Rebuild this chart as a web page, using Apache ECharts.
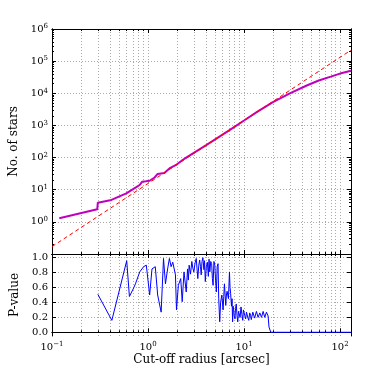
<!DOCTYPE html>
<html>
<head>
<meta charset="utf-8">
<script src="https://cdn.jsdelivr.net/npm/echarts@6/dist/echarts.min.js"></script>
<style>
  html, body { margin: 0; padding: 0; background: #fff; }
  #chart { width: 374px; height: 374px; }
</style>
</head>
<body>
<div id="chart"></div>
<script>
// cumulative star counts (magenta)
const starRadius = [0.119, 0.296, 0.30, 0.416, 0.594, 0.755, 0.817, 0.87, 0.95, 1.04, 1.17, 1.26, 1.48, 1.67, 1.96, 2.29, 2.5, 4.0, 7.0, 10, 13.8, 20, 30, 45, 60, 80, 100, 130]
const starCount = [1.29, 2.45, 3.95, 4.8, 7.7, 12, 14, 17.8, 18.3, 19, 24, 31, 33, 46, 59, 84, 100, 240, 700, 1420, 2700, 5300, 10000, 17500, 25000, 33000, 41000, 50000]

// power-law fit (red dashed)
const fitRadius = [0.1, 130]
const fitCount = [0.17, 220000]

// P-value (blue)
const pRadius = [0.30, 0.42, 0.60, 0.64, 0.70, 0.74, 0.82, 0.90, 0.96, 1.04, 1.10, 1.19, 1.26, 1.37, 1.45, 1.52, 1.60, 1.67, 1.74, 1.81, 1.93, 1.98, 2.07, 2.19, 2.27, 2.37, 2.50, 2.58, 2.63, 2.68, 2.77, 2.86, 2.93, 3.0, 3.09, 3.18, 3.24, 3.3, 3.38, 3.45, 3.52, 3.58, 3.65, 3.73, 3.82, 3.88, 3.95, 4.05, 4.15, 4.25, 4.32, 4.4, 4.5, 4.6, 4.68, 4.76, 4.86, 4.96, 5.05, 5.15, 5.25, 5.36, 5.45, 5.58, 5.7, 5.87, 6.05, 6.15, 6.25, 6.45, 6.55, 6.66, 6.88, 7.05, 7.15, 7.25, 7.4, 7.5, 7.6, 7.7, 7.8, 7.9, 8.05, 8.15, 8.3, 8.45, 8.6, 8.75, 8.95, 9.1, 9.3, 9.5, 9.7, 9.85, 10.0, 10.2, 10.4, 10.6, 10.8, 11.0, 11.2, 11.45, 11.7, 11.9, 12.1, 12.35, 12.6, 12.9, 13.2, 13.45, 13.7, 14.0, 14.3, 14.6, 14.9, 15.2, 15.5, 15.8, 16.1, 16.45, 16.8, 17.1, 17.5, 17.8, 18.2, 19.0, 130]
const pValue = [0.51, 0.16, 0.96, 0.48, 0.58, 0.65, 0.81, 0.88, 0.90, 0.50, 0.85, 0.88, 0.50, 0.27, 0.99, 0.65, 0.85, 0.99, 0.88, 0.94, 0.77, 0.30, 0.63, 0.72, 0.41, 0.81, 0.54, 0.85, 0.70, 0.90, 0.78, 0.95, 0.86, 0.81, 0.93, 0.99, 0.85, 0.72, 0.90, 0.97, 0.88, 0.77, 0.95, 1.0, 0.84, 0.96, 0.68, 0.88, 0.94, 0.75, 0.98, 0.81, 0.95, 0.92, 0.72, 0.63, 0.95, 0.90, 0.70, 0.54, 0.88, 0.92, 0.45, 0.14, 0.40, 0.50, 0.30, 0.48, 0.65, 0.36, 0.50, 0.55, 0.45, 0.81, 0.60, 0.52, 0.35, 0.45, 0.14, 0.35, 0.30, 0.22, 0.18, 0.32, 0.38, 0.22, 0.14, 0.28, 0.30, 0.20, 0.34, 0.24, 0.16, 0.30, 0.27, 0.22, 0.18, 0.27, 0.25, 0.19, 0.16, 0.26, 0.23, 0.17, 0.18, 0.27, 0.25, 0.19, 0.21, 0.28, 0.27, 0.20, 0.21, 0.26, 0.25, 0.20, 0.22, 0.28, 0.26, 0.20, 0.21, 0.27, 0.25, 0.22, 0.07, 0.0, 0.0]

// ticks
const xMajor = [0.1, 1, 10, 100]
const yMajor = [0.1, 1, 10, 100, 1e3, 1e4, 1e5, 1e6]
const yLabelled = [1, 10, 100, 1e3, 1e4, 1e5, 1e6]
const minorFactors = [2, 3, 4, 5, 6, 7, 8, 9]
const pTicks = [0, 0.2, 0.4, 0.6, 0.8, 1.0]

const xMinor = xMajor.flatMap((d) => minorFactors.map((k) => +(k * d).toPrecision(3)))
const yMinor = yMajor.slice(0, -1).flatMap((d) => minorFactors.map((k) => +(k * d).toPrecision(3)))

const font = 'DejaVu Serif'
const frame = { show: true, lineStyle: { color: '#000', width: 1 } }
const dotted = { show: true, lineStyle: { color: '#aaa', width: 1, type: [1, 2] } }
const supRich = {
  e: { fontFamily: font, fontSize: 7, color: '#000', verticalAlign: 'top', lineHeight: 7, padding: [0, 0, 5, 0] }
}

function powLabel(v) {
  const e = Math.round(Math.log10(v))
  return '10{e|' + (e < 0 ? '\u2212' + -e : e) + '}'
}

function axis(type, grid, position, ticks, len, extra) {
  const a = {
    type: type,
    gridIndex: grid,
    position: position,
    offset: 0,
    axisLine: frame,
    axisTick: { show: true, inside: true, length: len, customValues: ticks, lineStyle: { color: '#000', width: 1 } },
    axisLabel: { show: false },
    splitLine: { show: false },
    axisPointer: { show: false }
  }
  if (type === 'log') a.logBase = 10
  return Object.assign(a, extra)
}

const xRange = { min: 0.1, max: 130 }
const yTopRange = { min: 0.1, max: 1e6 }
const pRange = { min: -0.05, max: 1.05 }

const xAxes = [
  // top panel
  axis('log', 0, 'bottom', xMajor, 4, Object.assign({ splitLine: dotted }, xRange)),
  axis('log', 0, 'bottom', xMinor, 2, Object.assign({ splitLine: dotted }, xRange)),
  axis('log', 0, 'top', xMajor, 4, xRange),
  axis('log', 0, 'top', xMinor, 2, xRange),
  // bottom panel
  axis('log', 1, 'bottom', xMajor, 4, Object.assign({
    splitLine: dotted,
    axisLabel: {
      show: true, customValues: xMajor, margin: 5, formatter: powLabel,
      fontFamily: font, fontSize: 10, color: '#000', lineHeight: 12, rich: supRich
    },
    name: 'Cut-off radius [arcsec]',
    nameLocation: 'middle',
    nameGap: 15,
    nameTextStyle: { fontFamily: font, fontSize: 12, color: '#000', verticalAlign: 'top' }
  }, xRange)),
  axis('log', 1, 'bottom', xMinor, 2, Object.assign({ splitLine: dotted }, xRange)),
  axis('log', 1, 'top', xMajor, 4, xRange),
  axis('log', 1, 'top', xMinor, 2, xRange)
]

const yAxes = [
  axis('log', 0, 'left', yMajor, 4, Object.assign({
    splitLine: dotted,
    axisLabel: {
      show: true, customValues: yLabelled, margin: 4, formatter: powLabel,
      fontFamily: font, fontSize: 10, color: '#000', lineHeight: 12, rich: supRich
    },
    name: 'No. of stars',
    nameLocation: 'middle',
    nameGap: 21,
    nameTextStyle: { fontFamily: font, fontSize: 12, color: '#000' }
  }, yTopRange)),
  axis('log', 0, 'left', yMinor, 2, yTopRange),
  axis('log', 0, 'right', yMajor, 4, yTopRange),
  axis('log', 0, 'right', yMinor, 2, yTopRange),
  axis('value', 1, 'left', pTicks, 4, Object.assign({
    splitLine: dotted,
    axisLabel: {
      show: true, customValues: pTicks, margin: 4, formatter: (v) => v.toFixed(1),
      fontFamily: font, fontSize: 10, color: '#000'
    },
    name: 'P-value',
    nameLocation: 'middle',
    nameGap: 19,
    nameTextStyle: { fontFamily: font, fontSize: 12, color: '#000' }
  }, pRange)),
  axis('value', 1, 'right', pTicks, 4, pRange)
]

const chart = echarts.init(document.getElementById('chart'), null, { renderer: 'canvas' })
chart.setOption({
  animation: false,
  backgroundColor: '#fff',
  grid: [
    { left: 52, top: 29, width: 299, height: 225, outerBoundsMode: 'none' },
    { left: 52, top: 254, width: 299, height: 82, outerBoundsMode: 'none' }
  ],
  xAxis: xAxes,
  yAxis: yAxes,
  series: [
    {
      name: 'stars',
      type: 'line',
      xAxisIndex: 0,
      yAxisIndex: 0,
      data: starRadius.map((r, i) => [r, starCount[i]]),
      symbol: 'none',
      z: 2,
      lineStyle: { color: '#bf00bf', width: 2 }
    },
    {
      name: 'fit',
      type: 'line',
      xAxisIndex: 0,
      yAxisIndex: 0,
      data: fitRadius.map((r, i) => [r, fitCount[i]]),
      symbol: 'none',
      z: 3,
      lineStyle: { color: '#ff0000', width: 1, type: [4, 3] }
    },
    {
      name: 'pvalue',
      type: 'line',
      xAxisIndex: 4,
      yAxisIndex: 4,
      data: pRadius.map((r, i) => [r, pValue[i]]),
      symbol: 'none',
      z: 2,
      lineStyle: { color: '#0000ff', width: 1 }
    }
  ]
})
</script>
</body>
</html>
